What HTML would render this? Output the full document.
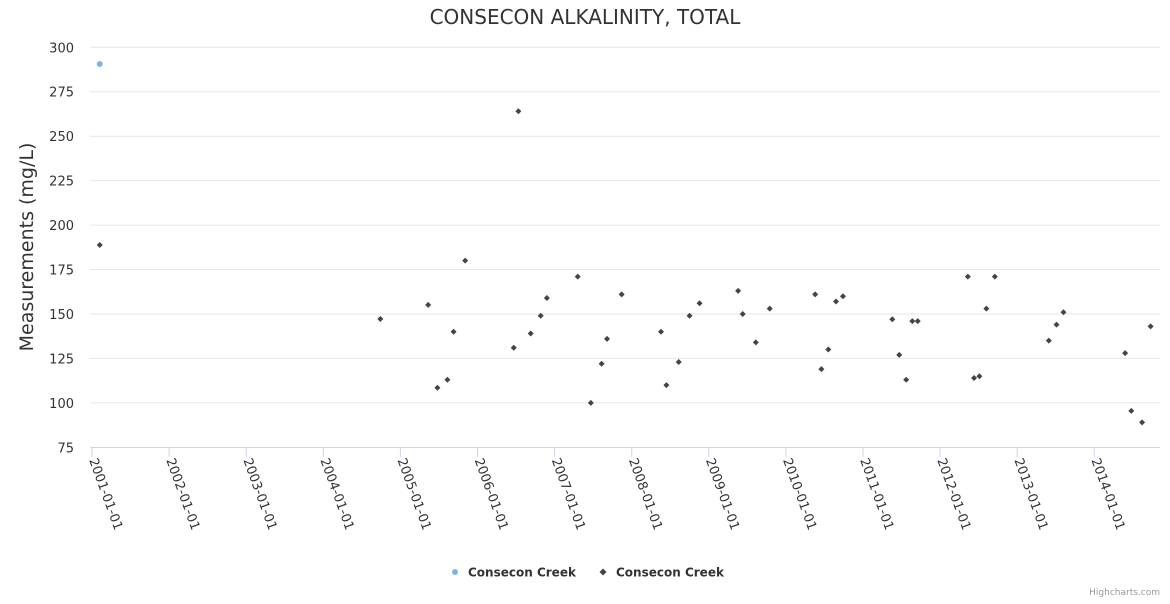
<!DOCTYPE html>
<html><head><meta charset="utf-8"><style>
body{margin:0;background:#fff;font-family:"DejaVu Sans","Liberation Sans",sans-serif}
svg text{font-family:"DejaVu Sans","Liberation Sans",sans-serif}
</style></head><body>
<svg id="chart" width="1170" height="600" xmlns="http://www.w3.org/2000/svg">
<rect width="1170" height="600" fill="#fff"/>
<text x="585" y="24" text-anchor="middle" font-size="20" fill="#333">CONSECON ALKALINITY, TOTAL</text>
<text transform="translate(33,247) rotate(-90)" text-anchor="middle" font-size="19" fill="#333">Measurements (mg/L)</text>
<g id="grid"></g><g id="xaxis"></g><g id="marks"></g>
<g>
<g><circle cx="455" cy="572" r="3" fill="#7cb5ec"/><text x="468" y="576.5" font-size="12" font-weight="bold" fill="#333">Consecon Creek</text></g>
<g><path d="M603,568.5 L606.5,572 L603,575.5 L599.5,572 Z" fill="#434348"/><text x="616" y="576.5" font-size="12" font-weight="bold" fill="#333">Consecon Creek</text></g>
</g>
<text x="1160" y="595" text-anchor="end" font-size="9" fill="#999">Highcharts.com</text>
</svg>
<script>
const yTicks=[75,100,125,150,175,200,225,250,275,300];
const xTickYears=[2001,2002,2003,2004,2005,2006,2007,2008,2009,2010,2011,2012,2013,2014];
const series1Dates=[2001.10];
const series1Values=[290.6];
const series2Dates=[2001.10,2004.74,2005.36,2005.48,2005.61,2005.69,2005.84,2006.47,2006.53,2006.69,2006.82,2006.90,2007.30,2007.47,2007.61,2007.68,2007.87,2008.38,2008.45,2008.61,2008.75,2008.88,2009.38,2009.44,2009.61,2009.79,2010.38,2010.46,2010.55,2010.65,2010.74,2011.38,2011.47,2011.56,2011.64,2011.71,2012.36,2012.44,2012.51,2012.60,2012.71,2013.41,2013.51,2013.60,2014.40,2014.48,2014.62,2014.73];
const series2Values=[188.8,147.2,155.1,108.5,113,140,180,131,264,139,149,159,171,100,122,136,161,140,110,123,149,156,163,150,134,153,161,119,130,157,160,147,127,113,146,146,171,114,115,153,171,135,144,151,128,95.5,89,143];
const NS="http://www.w3.org/2000/svg";
const xs=v=>92+(v-2001)*77.1;
const ys=v=>447.3-(v-75)*400/225;
function mk(tag,attrs,parent){const e=document.createElementNS(NS,tag);for(const k in attrs)e.setAttribute(k,attrs[k]);parent.appendChild(e);return e;}
const grid=document.getElementById('grid'),xa=document.getElementById('xaxis'),marks=document.getElementById('marks');
yTicks.forEach(t=>{
  const y=ys(t);
  if(t!==75){const l=mk('line',{x1:90,x2:1160,y1:y,y2:y,stroke:'#e6e6e6','stroke-width':1},grid);
  
  }
  const tx=mk('text',{x:74,y:y+5,'text-anchor':'end','font-size':'13',fill:'#333'},grid);
  tx.textContent=t;
  
  
});
const ax=mk('line',{x1:90,x2:1160,y1:447.5,y2:447.5,stroke:'#ccd6eb','stroke-width':1},xa);


xTickYears.forEach(yr=>{
  const x=xs(yr);
  const tk=mk('line',{x1:x,x2:x,y1:447,y2:457,stroke:'#ccd6eb'},xa);
  
  
  const tx=mk('text',{x:0,y:0,'font-size':'13',fill:'#333',transform:`translate(${x-3},${460}) rotate(70)`},xa);
  tx.textContent=yr+'-01-01';
  
  
});
series1Dates.forEach((d,i)=>{
  const c=mk('circle',{cx:xs(d),cy:ys(series1Values[i]),r:3,fill:'#7cb5ec'},marks);
  
  
});
series2Dates.forEach((d,i)=>{
  const x=xs(d),y=ys(series2Values[i]);
  const p=mk('path',{d:`M${x},${y-3} L${x+3},${y} L${x},${y+3} L${x-3},${y} Z`,fill:'#434348'},marks);
  
  
});
</script>
</body></html>
